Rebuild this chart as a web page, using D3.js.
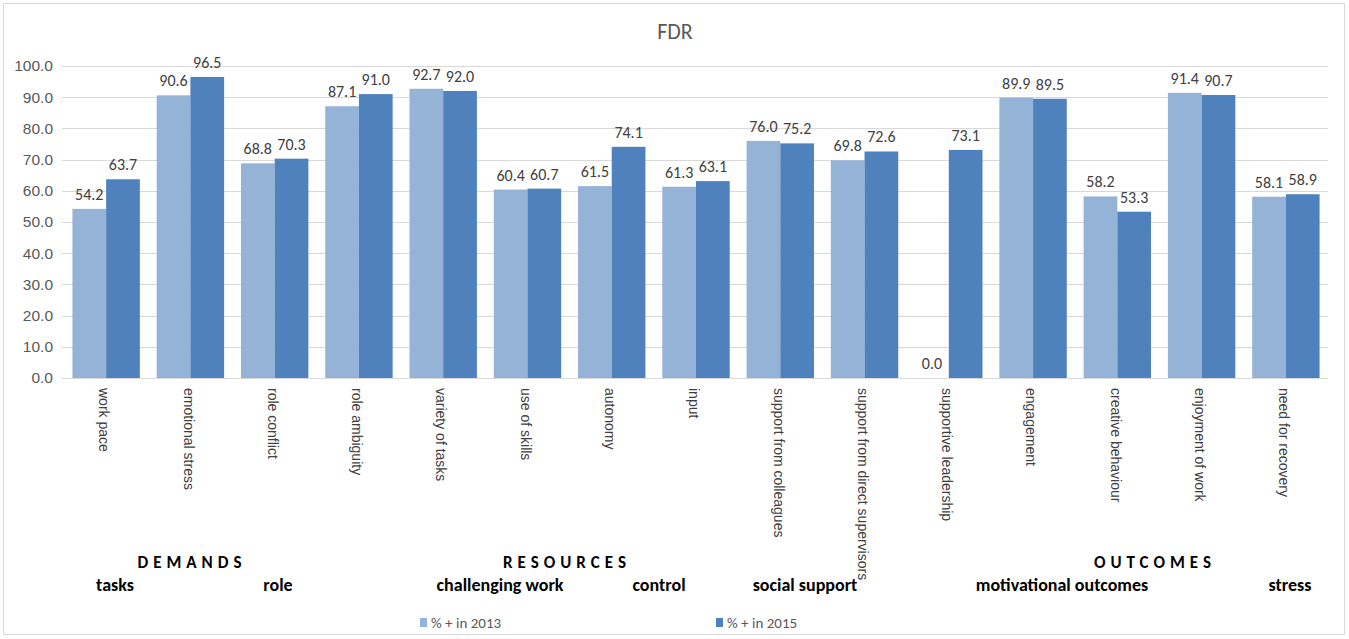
<!DOCTYPE html>
<html>
<head>
<meta charset="utf-8">
<script src="https://cdn.jsdelivr.net/npm/d3@7"></script>
<style>
  html, body { margin: 0; padding: 0; background: #fff; }
  svg { display: block; font-family: Carlito, Lato, "Liberation Sans", sans-serif; }
</style>
</head>
<body>
<svg id="chart" width="1349" height="639"></svg>
<script>
const categories = ["work pace", "emotional stress", "role conflict", "role ambiguity", "variety of tasks",
  "use of skills", "autonomy", "input", "support from colleagues", "support from direct supervisors",
  "supportive leadership", "engagement", "creative behaviour", "enjoyment of work", "need for recovery"];
const values2013 = [54.2, 90.6, 68.8, 87.1, 92.7, 60.4, 61.5, 61.3, 76.0, 69.8, 0.0, 89.9, 58.2, 91.4, 58.1];
const values2015 = [63.7, 96.5, 70.3, 91.0, 92.0, 60.7, 74.1, 63.1, 75.2, 72.6, 73.1, 89.5, 53.3, 90.7, 58.9];
const seriesNames = ["% + in 2013", "% + in 2015"];
const yTicks = [0, 10, 20, 30, 40, 50, 60, 70, 80, 90, 100];
const groupHeaders = ["DEMANDS", "RESOURCES", "OUTCOMES"];
const subHeaders = ["tasks", "role", "challenging work", "control", "social support", "motivational outcomes", "stress"];
const title = "FDR";

const colors = ["#95B3D7", "#4F81BD"];
const svg = d3.select("#chart");

// outer border
svg.append("rect").attr("x", 3.5).attr("y", 3.5).attr("width", 1341).attr("height", 631)
  .attr("fill", "#fff").attr("stroke", "#d9d9d9");

const plotLeft = 64, plotRight = 1328, plotTop = 66, plotBottom = 378;

const x = d3.scaleBand().domain(categories).range([plotLeft, plotRight]).paddingInner(0.2).paddingOuter(0.1);
const xs = d3.scaleBand().domain([0, 1]).range([0, x.bandwidth()]);
const y = d3.scaleLinear().domain([0, 100]).range([plotBottom, plotTop]);

// title
svg.append("text").attr("x", 675).attr("y", 39).attr("text-anchor", "middle")
  .attr("font-size", 22).attr("fill", "#595959").text(title);

// gridlines
svg.append("g").selectAll("line").data(yTicks).join("line")
  .attr("x1", plotLeft - 2).attr("x2", plotRight)
  .attr("y1", d => Math.round(y(d)) + 0.5).attr("y2", d => Math.round(y(d)) + 0.5)
  .attr("stroke", "#d9d9d9").attr("stroke-width", 1);

// y axis labels
const yAxis = d3.axisLeft(y).tickValues(yTicks).tickFormat(d3.format(".1f")).tickSize(0).tickPadding(11);
const ya = svg.append("g").attr("transform", `translate(${plotLeft},0)`).call(yAxis);
ya.select(".domain").remove();
ya.selectAll("text").attr("font-size", 15.5).attr("fill", "#595959").attr("font-family", null);

// bars
const data = categories.map((c, i) => ({ c, v: [values2013[i], values2015[i]] }));
const groups = svg.append("g").selectAll("g").data(data).join("g")
  .attr("transform", d => `translate(${x(d.c)},0)`);
groups.selectAll("rect").data(d => d.v.map((v, k) => ({ v, k }))).join("rect")
  .attr("x", d => xs(d.k)).attr("width", xs.bandwidth())
  .attr("y", d => y(d.v)).attr("height", d => y(0) - y(d.v))
  .attr("fill", d => colors[d.k]);
groups.selectAll("text").data(d => d.v.map((v, k) => ({ v, k }))).join("text")
  .attr("x", d => xs(d.k) + xs.bandwidth() / 2).attr("y", d => y(d.v) - 9)
  .attr("text-anchor", "middle").attr("font-size", 16).attr("fill", "#404040")
  .text(d => d3.format(".1f")(d.v));

// x axis line
svg.append("line").attr("x1", plotLeft - 2).attr("x2", plotRight)
  .attr("y1", plotBottom + 0.5).attr("y2", plotBottom + 0.5).attr("stroke", "#d9d9d9");

// x labels rotated
const xAxis = d3.axisBottom(x).tickSize(0).tickPadding(0);
const xa = svg.append("g").attr("transform", `translate(0,${plotBottom})`).call(xAxis);
xa.select(".domain").remove();
xa.selectAll("text")
  .attr("font-family", null).attr("font-size", 14).attr("fill", "#404040")
  .attr("text-anchor", "start").attr("dy", null).attr("y", null)
  .attr("dominant-baseline", "middle")
  .attr("transform", "translate(-3,10) rotate(90)");

// group headers
const hdrX = [192, 567, 1155];
svg.append("g").selectAll("text").data(groupHeaders).join("text")
  .attr("x", (d, i) => hdrX[i]).attr("y", 568)
  .attr("text-anchor", "middle").attr("font-size", 17).attr("font-weight", "bold")
  .attr("letter-spacing", "5px").attr("fill", "#000").text(d => d);
const subX = [115, 278, 500, 659, 805, 1062, 1290];
svg.append("g").selectAll("text").data(subHeaders).join("text")
  .attr("x", (d, i) => subX[i]).attr("y", 591)
  .attr("text-anchor", "middle").attr("font-size", 18).attr("font-weight", "bold")
  .attr("fill", "#000").text(d => d);

// legend
const legendX = [420, 716];
const lg = svg.append("g").selectAll("g").data(seriesNames).join("g")
  .attr("transform", (d, i) => `translate(${legendX[i]},618)`);
lg.append("rect").attr("width", 7).attr("height", 9).attr("fill", (d, i) => colors[i]);
lg.append("text").attr("x", 11).attr("y", 9.5).attr("font-size", 15).attr("fill", "#595959").text(d => d);
</script>
</body>
</html>
